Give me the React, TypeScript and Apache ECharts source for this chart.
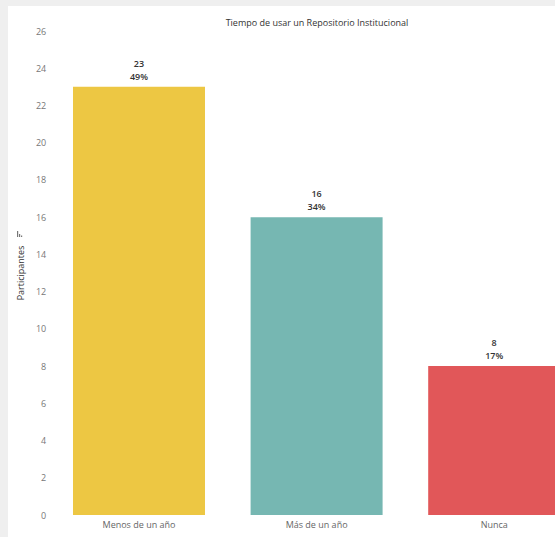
import React, { useEffect, useRef } from "react";
import * as echarts from "echarts";

const categories = ["Menos de un año", "Más de un año", "Nunca"];
const participants = [23, 16, 8];
const percentLabels = ["49%", "34%", "17%"];
const barColors = ["#EDC743", "#76B7B2", "#E15759"];
const yTicks = { min: 0, max: 26, interval: 2 };
const titleText = "Tiempo de usar un Repositorio Institucional";
const yAxisName = "Participantes";

export default function App() {
  const ref = useRef<HTMLDivElement>(null);
  useEffect(() => {
    if (!ref.current) return;
    const chart = echarts.init(ref.current, undefined, { renderer: "svg" });
    const font = "'Open Sans', 'Noto Sans', sans-serif";
    chart.setOption({
      animation: false,
      backgroundColor: "#ffffff",
      textStyle: { fontFamily: font },
      title: {
        text: titleText,
        left: 304,
        top: 7,
        textAlign: "center",
        textStyle: { fontSize: 9, fontWeight: "normal", color: "#333", fontFamily: font },
      },
      grid: { left: 37, right: 25, top: 25, bottom: 22, containLabel: false },
      xAxis: {
        type: "category",
        data: categories,
        axisLine: { show: false },
        axisTick: { show: false },
        axisLabel: { color: "#666", fontSize: 9, margin: 5, fontFamily: font },
      },
      yAxis: {
        type: "value",
        min: yTicks.min,
        max: yTicks.max,
        interval: yTicks.interval,
        name: yAxisName,
        nameLocation: "middle",
        nameGap: 25,
        nameTextStyle: { color: "#333", fontSize: 9, fontFamily: font },
        splitLine: { show: false },
        axisLine: { show: false },
        axisTick: { show: false },
        axisLabel: { color: "#777", fontSize: 9, margin: 4, fontFamily: font },
      },
      graphic: [
        { type: "rect", shape: { x: 9, y: 225, width: 1.2, height: 6 }, style: { fill: "#777" } },
        { type: "rect", shape: { x: 11, y: 228, width: 1.2, height: 3 }, style: { fill: "#777" } },
        { type: "rect", shape: { x: 13, y: 229.5, width: 1.2, height: 1.5 }, style: { fill: "#777" } },
      ],
      series: [
        {
          type: "bar",
          barWidth: 132,
          data: participants.map((v, i) => ({
            value: v,
            itemStyle: { color: barColors[i] },
          })),
          label: {
            show: true,
            position: "top",
            distance: 4,
            color: "#333",
            fontSize: 9,
            lineHeight: 13,
            fontWeight: 600,
            fontFamily: font,
            formatter: (p: any) => `${p.value}\n${percentLabels[p.dataIndex]}`,
          },
        },
      ],
    });
    return () => chart.dispose();
  }, []);
  return (
    <div
      style={{
        position: "fixed",
        left: 0,
        top: 0,
        width: 555,
        height: 537,
        overflow: "hidden",
        background: "#efefef",
      }}
    >
      <div
        ref={ref}
        style={{ position: "absolute", left: 8, top: 6, width: 600, height: 531 }}
      />
    </div>
  );
}
